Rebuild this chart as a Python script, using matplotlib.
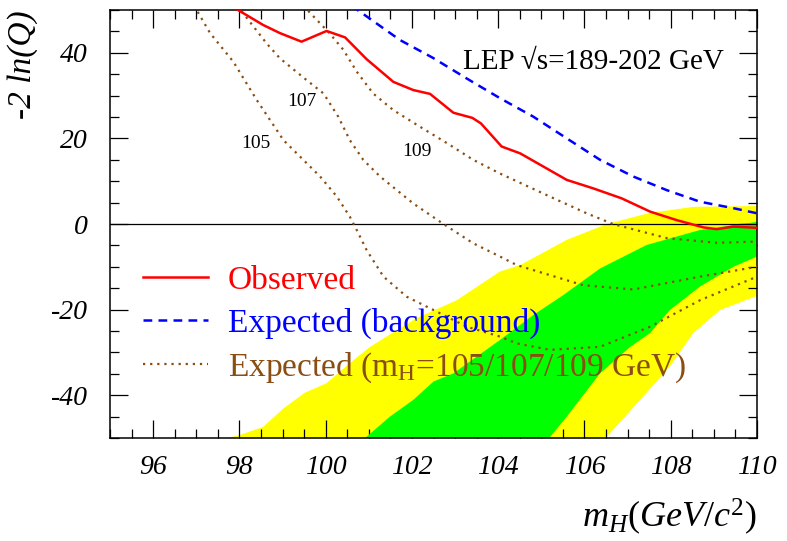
import numpy as np
import matplotlib
matplotlib.use("Agg")
import matplotlib.pyplot as plt
from matplotlib.ticker import MultipleLocator
from matplotlib.lines import Line2D

plt.rcParams['font.family'] = ['Liberation Serif', 'DejaVu Serif']
plt.rcParams['mathtext.fontset'] = 'custom'
plt.rcParams['mathtext.rm'] = 'Liberation Serif'
plt.rcParams['mathtext.it'] = 'Liberation Serif:italic'
plt.rcParams['axes.unicode_minus'] = False

# Observed -2lnQ
obs_x = [97.8, 98.55, 98.94, 99.44, 100.02, 100.45, 100.95, 101.57, 102.03, 102.42,
         102.96, 103.4, 103.6, 104.08, 104.51, 105.59, 106.21, 106.86, 107.52,
         108.14, 108.76, 109.07, 109.45, 110.0]
obs_y = [51.0, 46.5, 44.6, 42.6, 45.1, 43.6, 38.5, 33.2, 31.3, 30.4,
         26.0, 24.8, 23.5, 18.1, 16.5, 10.3, 8.3, 6.0, 2.9,
         0.9, -0.8, -1.2, -0.6, -0.9]

# Expected (background)
bkg_x = [100.6, 101.72, 102.49, 103.27, 104.04, 104.81, 105.59, 106.36, 107.13,
         107.91, 108.68, 109.45, 110.0]
bkg_y = [51.0, 43.0, 38.8, 34.0, 29.4, 25.1, 20.0, 15.0, 11.1, 7.9, 5.2, 3.7, 2.5]

# Expected signal+background, mH = 105 / 107 / 109
s105_x = [96.95, 97.32, 97.86, 98.40, 99.02, 99.41, 99.87, 100.26, 100.56, 100.72,
          100.95, 101.34, 101.88, 102.5, 103.27, 104.04, 104.43, 105.2, 106.36,
          107.52, 108.68, 110.0]
s105_y = [51.0, 44.6, 37.9, 29.0, 19.6, 15.7, 11.1, 6.4, 1.7, -1.4,
          -6.1, -12.3, -17.0, -20.1, -24.0, -26.3, -27.9, -29.4, -28.7,
          -24.0, -17.8, -12.3]

s107_x = [97.95, 98.63, 98.94, 99.56, 99.95, 100.29, 100.56, 100.87, 101.26, 102.03,
          102.73, 103.42, 104.04, 104.43, 105.97, 107.13, 108.68, 110.0]
s107_y = [51.0, 42.2, 38.7, 33.6, 30.5, 25.1, 19.6, 15.0, 11.1, 4.8,
          0.0, -4.5, -7.6, -9.6, -14.3, -15.3, -12.3, -10.0]

s109_x = [99.48, 100.06, 100.41, 100.72, 101.1, 101.57, 102.19, 102.81, 103.42, 104.04,
          105.2, 106.05, 106.66, 107.91, 109.07, 110.0]
s109_y = [51.0, 44.9, 40.7, 35.6, 30.5, 26.6, 22.7, 18.9, 15.0, 11.8,
          6.4, 2.5, 0.0, -3.3, -4.4, -4.1]

# 2 sigma band (yellow)
y2_hi_x = [97.3, 98.01, 98.55, 99.02, 99.52, 100.02, 100.56, 101.03, 101.65, 102.11,
           102.73, 103.04, 104.04, 104.51, 105.59, 106.52, 107.52, 108.52, 110.0]
y2_hi_y = [-51.0, -49.3, -47.4, -43.1, -39.4, -37.2, -32.5, -28.7, -24.8, -22.0,
           -19.2, -17.8, -11.1, -9.6, -3.7, 0.0, 2.6, 4.0, 4.2]
y2_lo_x = [106.4, 107.29, 107.98, 108.52, 109.14, 110.0]
y2_lo_y = [-51.0, -41.1, -33.3, -25.5, -20.1, -16.8]

# 1 sigma band (green)
g1_hi_x = [100.8, 101.49, 102.03, 102.5, 102.96, 103.5, 104.04, 104.81, 105.51,
           106.36, 107.44, 108.68, 110.0]
g1_hi_y = [-51.0, -45.0, -41.1, -36.8, -34.9, -31.0, -27.1, -21.3, -16.6,
           -10.4, -4.9, -1.4, 0.5]
g1_lo_x = [105.1, 105.59, 106.36, 107.06, 107.52, 107.98, 108.68, 109.45, 110.0]
g1_lo_y = [-51.0, -45.0, -34.9, -28.7, -25.5, -20.1, -14.6, -10.0, -7.6]

brown = '#8a4d12'

fig = plt.figure(figsize=(7.87, 5.41), dpi=100)
ax = fig.add_axes([0.1398, 0.1904, 0.8221, 0.7911])

# bands
ax.fill(np.concatenate([y2_hi_x, [110.5, 110.5], y2_lo_x[::-1]]),
        np.concatenate([y2_hi_y, [4.2, -16.8], y2_lo_y[::-1]]),
        color='#ffff00', lw=0, zorder=1)
ax.fill(np.concatenate([g1_hi_x, [110.5, 110.5], g1_lo_x[::-1]]),
        np.concatenate([g1_hi_y, [0.5, -7.6], g1_lo_y[::-1]]),
        color='#00ff00', lw=0, zorder=2)

ax.axhline(0, color='black', lw=0.9, zorder=3)

ax.plot(s105_x, s105_y, color=brown, lw=1.6, ls=(0, (1, 2.2)), zorder=4)
ax.plot(s107_x, s107_y, color=brown, lw=1.6, ls=(0, (1, 2.2)), zorder=4)
ax.plot(s109_x, s109_y, color=brown, lw=1.6, ls=(0, (1, 2.2)), zorder=4)
ax.plot(bkg_x, bkg_y, color='#0000ff', lw=1.8, ls=(0, (3.5, 2.5)), zorder=5)
ax.plot(obs_x, obs_y, color='#ff0000', lw=1.8, zorder=6)

ax.text(98.39, 18.9, '105', fontsize=14, ha='center', va='center')
ax.text(99.44, 28.6, '107', fontsize=14, ha='center', va='center')
ax.text(102.11, 16.9, '109', fontsize=14, ha='center', va='center')

ax.text(103.18, 37.9, 'LEP \u221as=189-202 GeV', fontsize=21, ha='left', va='center')

handles = [
    Line2D([], [], color='#ff0000', lw=1.8),
    Line2D([], [], color='#0000ff', lw=1.8, ls=(0, (3.5, 2.5))),
    Line2D([], [], color=brown, lw=1.6, ls=(0, (1, 2.2))),
]
labels = ['Observed', 'Expected (background)',
          r'Expected (m$_{\mathrm{H}}$=105/107/109 GeV)']
ax.legend(handles, labels, loc='upper left', bbox_to_anchor=(0.0305, 0.435),
          frameon=False, fontsize=24, handlelength=1.95, handletextpad=0.6,
          labelspacing=0.36, labelcolor='linecolor', borderaxespad=0)

ax.set_xlim(95, 110)
ax.set_ylim(-50, 50)
ax.set_xticks(np.arange(96, 111, 2))
ax.set_yticks(np.arange(-40, 41, 20))
ax.xaxis.set_minor_locator(MultipleLocator(0.5))
ax.yaxis.set_minor_locator(MultipleLocator(5))
ax.tick_params(which='both', direction='in', top=True, right=True, width=0.9)
ax.tick_params(which='major', length=13, labelsize=20)
ax.tick_params(which='minor', length=6.5)
ax.tick_params(axis='x', pad=12)
ax.tick_params(axis='y', pad=16)
for t in ax.get_xticklabels() + ax.get_yticklabels():
    t.set_fontstyle('italic')
for s in ax.spines.values():
    s.set_linewidth(1.1)

ax.set_ylabel('-2 ln(Q)', fontsize=24, fontstyle='italic', loc='top', labelpad=9)
ax.set_xlabel(r'$m_{H}(GeV/c^{2})$', fontsize=26, loc='right', labelpad=12)

fig.savefig('out.png', dpi=100)
